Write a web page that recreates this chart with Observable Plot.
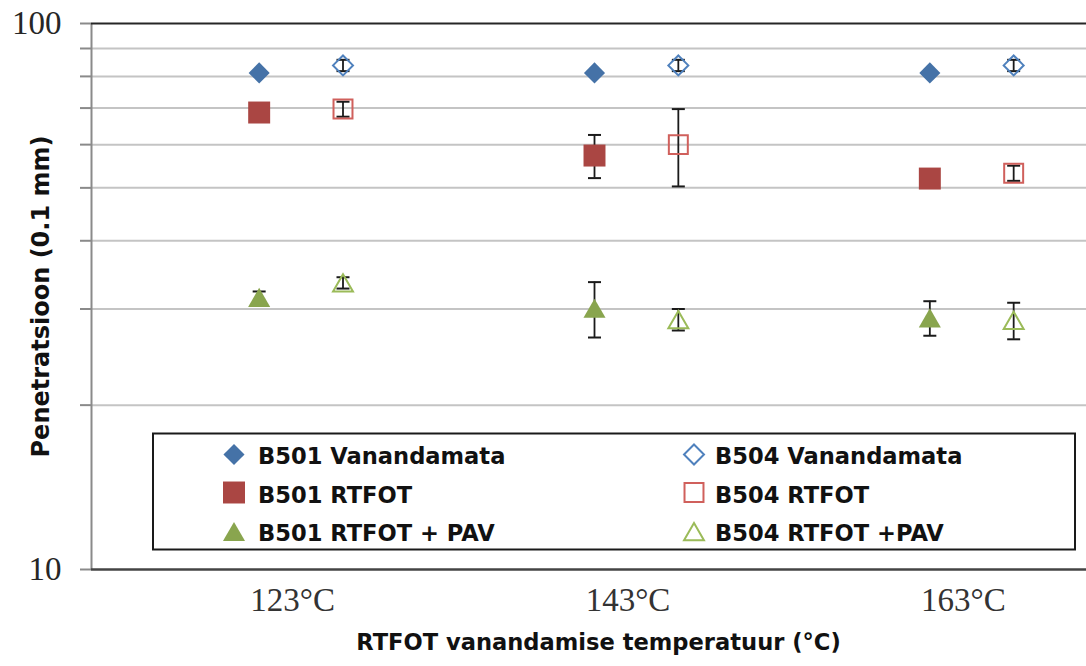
<!DOCTYPE html>
<html><head><meta charset="utf-8">
<script src="https://cdn.jsdelivr.net/npm/d3@7"></script>
<script src="https://cdn.jsdelivr.net/npm/@observablehq/plot@0.6"></script>
<style>body{margin:0;background:#fff}#chart{width:1086px;height:666px}</style>
</head><body><div id="chart"></div>
<script>
// ---- data ----
const categories = ["123°C", "143°C", "163°C"];
const b501Vanandamata = [81.2, 81.2, 81.2];
const b504Vanandamata = [83.8, 83.8, 83.8];
const b504VanandamataErr = [2.0, 2.0, 2.0];
const b501Rtfot = [68.7, 57.3, 52.0];
const b501RtfotErr = [0, 5.2, 0];
const b504Rtfot = [69.7, 60.0, 53.2];
const b504RtfotErr = [2.2, 9.7, 1.7];
const b501RtfotPav = [31.5, 30.1, 28.9];
const b501RtfotPavErr = [0.8, 3.5, 2.1];
const b504RtfotPav = [33.5, 28.7, 28.6];
const b504RtfotPavErr = [0.8, 1.3, 2.2];
const yGridValues = [20, 30, 40, 50, 60, 70, 80, 90];
const yTickValues = [10, 20, 30, 40, 50, 60, 70, 80, 90, 100];
const yTickLabels = [10, 100];
const yTitle = "Penetratsioon (0.1 mm)";
const xTitle = "RTFOT vanandamise temperatuur (°C)";

// ---- styles ----
const sans = "'DejaVu Sans', Verdana, sans-serif";
const serif = "'Liberation Serif', 'Times New Roman', serif";
const series = [
  {name: "B501 Vanandamata", values: b501Vanandamata, err: null, offset: 0, symbol: "diamond2", r: 9.5, fill: "#4572A7", stroke: "none", sw: 0, dy: 0, col: 0, row: 0},
  {name: "B504 Vanandamata", values: b504Vanandamata, err: b504VanandamataErr, offset: 0.25, symbol: "diamond2", r: 9.0, fill: "none", stroke: "#4F81BD", sw: 2, dy: 0, col: 1, row: 0},
  {name: "B501 RTFOT", values: b501Rtfot, err: b501RtfotErr, offset: 0, symbol: "square", r: 12.4, fill: "#AA4643", stroke: "none", sw: 0, dy: 0, col: 0, row: 1},
  {name: "B504 RTFOT", values: b504Rtfot, err: b504RtfotErr, offset: 0.25, symbol: "square", r: 10.7, fill: "none", stroke: "#D0605C", sw: 2, dy: 0, col: 1, row: 1},
  {name: "B501 RTFOT + PAV", values: b501RtfotPav, err: b501RtfotPavErr, offset: 0, symbol: "triangle", r: 8.2, fill: "#89A54E", stroke: "none", sw: 0, dy: 3.2, col: 0, row: 2},
  {name: "B504 RTFOT +PAV", values: b504RtfotPav, err: b504RtfotPavErr, offset: 0.25, symbol: "triangle", r: 7.4, fill: "none", stroke: "#9BBB59", sw: 2, dy: 2.9, col: 1, row: 2}
];
const labelOffset = 0.6;

const rows = series.flatMap(s => s.values.map((v, i) => ({
  name: s.name, x: i + 0.5 + s.offset, y: v, err: s.err ? s.err[i] : 0
})));
const errRows = rows.filter(d => d.err > 0);

const capSymbol = {draw(ctx, size) { const r = Math.sqrt(size / Math.PI); ctx.moveTo(-r, 0); ctx.lineTo(r, 0); }};

const chart = Plot.plot({
  width: 1086, height: 666,
  marginLeft: 91, marginRight: 0, marginTop: 23, marginBottom: 97,
  style: {background: "white", fontFamily: sans, overflow: "hidden"},
  x: {domain: [0, 3], range: [91, 1097], axis: null},
  y: {type: "log", domain: [10, 100], axis: null},
  marks: [
    Plot.ruleY(yGridValues, {stroke: "#c4c4c4", strokeWidth: 2}),
    Plot.axisY({ticks: yTickValues, tickSize: 11, tickPadding: 19, stroke: "#8a8a8a", strokeWidth: 2, strokeOpacity: 1,
      tickFormat: d => yTickLabels.includes(d) ? String(d) : "", fontSize: 33, fontFamily: serif, fill: "#262626", label: null}),
    Plot.ruleX([0], {stroke: "#8a8a8a", strokeWidth: 2}),
    Plot.ruleY([100], {stroke: "#262626", strokeWidth: 2}),
    Plot.ruleY([10], {stroke: "#444", strokeWidth: 2.5}),
    Plot.axisX({ticks: categories.map((_, i) => i + labelOffset), tickSize: 0, tickPadding: 18,
      tickFormat: d => categories[Math.round(d - labelOffset)], fontSize: 33, fontFamily: serif, fill: "#333", label: null}),
    Plot.ruleX(errRows, {x: "x", y1: d => d.y - d.err, y2: d => d.y + d.err, stroke: "#1a1a1a", strokeWidth: 1.8}),
    Plot.dot(errRows, {x: "x", y: d => d.y + d.err, symbol: capSymbol, r: 6.5, stroke: "#1a1a1a", strokeWidth: 2, fill: "none"}),
    Plot.dot(errRows, {x: "x", y: d => d.y - d.err, symbol: capSymbol, r: 6.5, stroke: "#1a1a1a", strokeWidth: 2, fill: "none"}),
    ...series.map(s => Plot.dot(rows.filter(d => d.name === s.name), {
      x: "x", y: "y", symbol: s.symbol, r: s.r, fill: s.fill, stroke: s.stroke, strokeWidth: s.sw, dy: s.dy
    })),
    Plot.text([yTitle], {frameAnchor: "left", text: d => d, rotate: -90, dx: -50.5, fontSize: 24, fontWeight: "bold", fill: "#111", fontFamily: sans, lineAnchor: "middle", textAnchor: "middle"}),
    Plot.text([xTitle], {frameAnchor: "bottom", text: d => d, dx: 9.5, dy: 73, fontSize: 22.6, fontWeight: "bold", fill: "#111", fontFamily: sans, lineAnchor: "middle", textAnchor: "middle"})
  ]
});
document.getElementById("chart").appendChild(chart);

// ---- legend (inside plot area) ----
const symbolMap = {diamond2: d3.symbolDiamond2, square: d3.symbolSquare, triangle: d3.symbolTriangle};
const svg = d3.select(chart);
const lg = svg.append("g").attr("text-anchor", "start");
const box = {x: 153, y: 433.5, w: 922, h: 116};
lg.append("rect").attr("x", box.x).attr("y", box.y).attr("width", box.w).attr("height", box.h)
  .attr("fill", "white").attr("stroke", "#1a1a1a").attr("stroke-width", 2);
const colMarkerX = [234, 694], colTextX = [258, 715];
const rowMarkerY = [454.5, 492.5, 531.5], rowTextY = [464, 502.5, 541];
for (const s of series) {
  lg.append("path")
    .attr("d", d3.symbol(symbolMap[s.symbol], Math.PI * s.r * s.r)())
    .attr("transform", `translate(${colMarkerX[s.col]},${rowMarkerY[s.row] + s.dy})`)
    .attr("fill", s.fill).attr("stroke", s.stroke).attr("stroke-width", s.sw);
  lg.append("text").attr("x", colTextX[s.col]).attr("y", rowTextY[s.row])
    .attr("text-anchor", "start")
    .attr("font-family", sans).attr("font-weight", "bold").attr("font-size", 22.6).attr("fill", "#111")
    .text(s.name);
}
</script>
</body></html>
